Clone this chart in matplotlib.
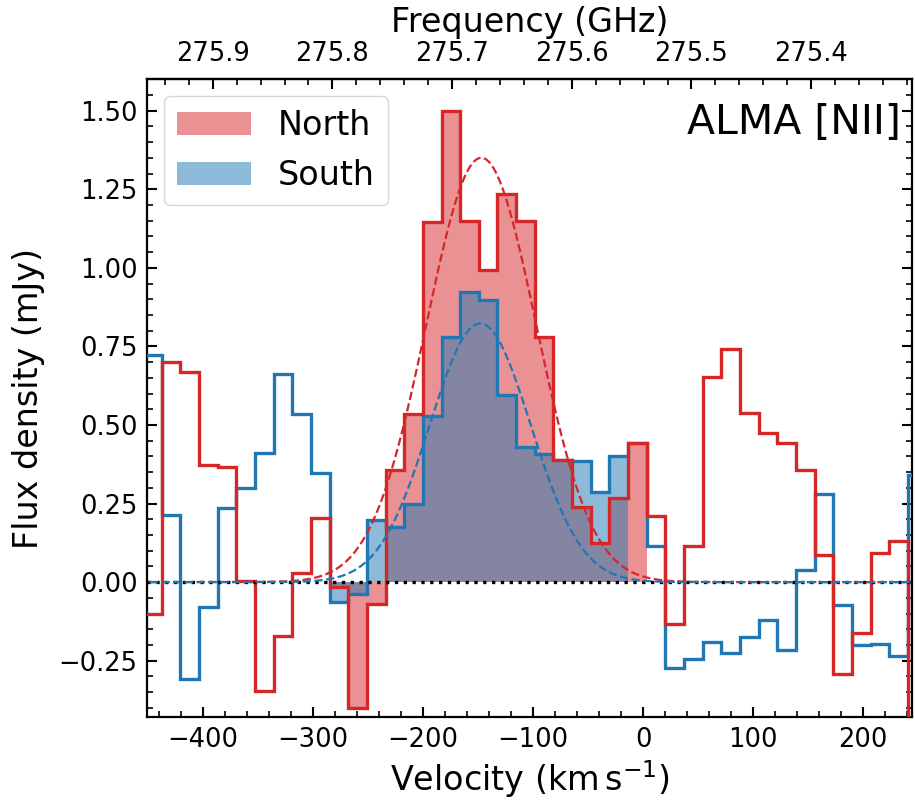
import numpy as np
import matplotlib
matplotlib.use("Agg")
import matplotlib.pyplot as plt
from matplotlib.patches import Patch
from matplotlib.ticker import MultipleLocator, FuncFormatter

# ---------------- data ----------------
velocity = [-446.0, -429.1, -412.1, -395.2, -378.2, -361.2, -344.3, -327.3, -310.4,
            -293.4, -276.4, -259.5, -242.5, -225.6, -208.6, -191.6, -174.7, -157.7,
            -140.8, -123.8, -106.8, -89.9, -72.9, -56.0, -39.0, -22.0, -5.1, 11.9,
            28.8, 45.8, 62.8, 79.7, 96.7, 113.6, 130.6, 147.6, 164.5, 181.5, 198.4,
            215.4, 232.4, 249.3]

north_flux = [-0.10, 0.70, 0.668, 0.372, 0.366, 0.005, -0.345, -0.172, 0.03,
              0.205, -0.015, -0.402, -0.071, 0.356, 0.534, 1.146, 1.50, 1.148,
              0.993, 1.236, 1.15, 0.779, 0.39, 0.24, 0.123, 0.266, 0.444, 0.21,
              -0.133, 0.115, 0.652, 0.743, 0.539, 0.474, 0.444, 0.357, 0.087, -0.292,
              -0.162, 0.094, 0.13, -0.6]

south_flux = [0.724, 0.213, -0.308, -0.078, 0.236, 0.300, 0.412, 0.663, 0.535,
              0.346, -0.062, -0.037, 0.199, 0.174, 0.248, 0.528, 0.781, 0.924,
              0.897, 0.596, 0.431, 0.407, 0.39, 0.386, 0.287, 0.401, 0.443, 0.115,
              -0.273, -0.244, -0.192, -0.225, -0.174, -0.12, -0.216, 0.04, 0.279, -0.072,
              -0.2, -0.196, -0.236, 0.34]

# gaussian fits: amplitude (mJy), centre (km/s), sigma (km/s)
north_fit = (1.35, -147.0, 50.0)
south_fit = (0.823, -148.0, 46.0)

# velocity ranges of the shaded line regions
north_fill_range = (-285.0, 3.5)
south_fill_range = (-285.0, -13.5)

freq_ticks = [275.9, 275.8, 275.7, 275.6, 275.5, 275.4]
nu0 = 275.5405            # GHz at v = 0
c_kms = 299792.458

red = '#d62728'
blue = '#1f77b4'

# ---------------- figure ----------------
fig = plt.figure(figsize=(9.15, 8.05), dpi=100)
ax = fig.add_axes([0.161, 0.109, 0.8357, 0.7926])

v = np.asarray(velocity)
fn = np.asarray(north_flux)
fs = np.asarray(south_flux)
mids = (v[:-1] + v[1:]) / 2
edges = np.concatenate([[v[0] - (mids[0] - v[0])], mids, [v[-1] + (v[-1] - mids[-1])]])


def fill_segment(flux, rng, color):
    m = np.where((v > rng[0]) & (v < rng[1]))[0]
    i0, i1 = m[0], m[-1]
    ax.stairs(flux[i0:i1 + 1], edges[i0:i1 + 2], baseline=0, fill=True,
              color=color, alpha=0.5, lw=0, zorder=1)


fill_segment(fn, north_fill_range, red)
fill_segment(fs, south_fill_range, blue)

ax.stairs(fs, edges, baseline=None, color=blue, lw=2.4, zorder=3)
ax.stairs(fn, edges, baseline=None, color=red, lw=2.4, zorder=4)

ax.axhline(0, color='k', ls=':', lw=2.4, zorder=5)

vg = np.linspace(-470, 270, 1000)
for (a, mu, sig), col in ((north_fit, red), (south_fit, blue)):
    ax.plot(vg, a * np.exp(-0.5 * ((vg - mu) / sig) ** 2), ls='--', color=col,
            lw=1.6, zorder=6)

ax.set_xlim(-450.6, 244.5)
ax.set_ylim(-0.43, 1.60)

ax.xaxis.set_major_locator(MultipleLocator(100))
ax.xaxis.set_minor_locator(MultipleLocator(20))
ax.yaxis.set_major_locator(MultipleLocator(0.25))
ax.yaxis.set_minor_locator(MultipleLocator(0.05))
ax.yaxis.set_major_formatter(FuncFormatter(lambda y, p: f'{y:.2f}'.replace('-', '\u2212')))

ax.tick_params(which='both', direction='in', top=False, right=True, labelsize=18.5)
ax.tick_params(which='major', length=7, width=1.5, pad=7)
ax.tick_params(which='minor', length=4, width=1.2)
for s in ax.spines.values():
    s.set_linewidth(1.6)

ax.set_xlabel(r'Velocity (km$\,$s$^{-1}$)', fontsize=24, labelpad=4)
ax.set_ylabel('Flux density (mJy)', fontsize=24, labelpad=10)


def v2nu(x):
    return nu0 * (1 - np.asarray(x) / c_kms)


def nu2v(f):
    return c_kms * (1 - np.asarray(f) / nu0)


sec = ax.secondary_xaxis('top', functions=(v2nu, nu2v))
sec.set_xticks(freq_ticks)
sec.set_xticklabels([f'{t:.1f}' for t in freq_ticks])
sec.xaxis.set_minor_locator(MultipleLocator(0.02))
sec.tick_params(which='both', direction='in', labelsize=18.5)
sec.tick_params(which='major', length=7, width=1.5, pad=9)
sec.tick_params(which='minor', length=4, width=1.2)
sec.set_xlabel('Frequency (GHz)', fontsize=24, labelpad=6)
sec.spines['top'].set_linewidth(1.6)

ax.text(0.985, 0.962, 'ALMA [NII]', transform=ax.transAxes, ha='right', va='top',
        fontsize=29.5)

handles = [Patch(facecolor=red, alpha=0.5, edgecolor='none', label='North'),
           Patch(facecolor=blue, alpha=0.5, edgecolor='none', label='South')]
ax.legend(handles=handles, loc='upper left', fontsize=24, handlelength=2.2)

fig.savefig('out.png', dpi=100)
